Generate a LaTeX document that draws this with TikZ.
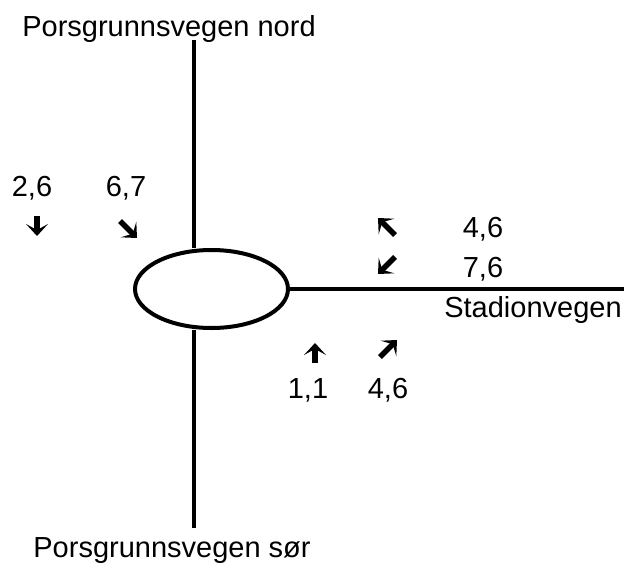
\documentclass[tikz,border=0pt]{standalone}
\usepackage{fontspec}
\setmainfont{Liberation Sans}
\usetikzlibrary{arrows.meta,shapes.geometric}
\newcommand{\lbfont}{\fontsize{29}{34}\selectfont}
\tikzset{
  road/.style={line width=4pt},
  lbl/.style={font=\lbfont,inner sep=0pt,anchor=base},
  ar/.style={line width=5.5pt,-{Stealth[length=12pt,width=22pt,inset=6pt]}},
}
\begin{document}
\begin{tikzpicture}[x=1pt,y=-1pt]
\useasboundingbox (0,0) rectangle (626,565);
% roundabout and roads
\node[draw,road,ellipse,inner sep=0pt,minimum width=153pt,minimum height=78pt] (rb) at (211.5,289) {};
\coordinate (nord) at (194,40);
\coordinate (sor) at (194,528);
\coordinate (stad) at (624,289);
\draw[road] (nord) -- (nord |- rb.north);
\draw[road] (sor) -- (sor |- rb.south);
\draw[road] (rb.east) -- (stad);
% road names
\node[lbl] (pn) at (169,36) {Porsgrunnsvegen nord};
\node[lbl] (ps) at (172,557) {Porsgrunnsvegen sør};
\node[lbl] (sv) at (533,317) {Stadionvegen};
% traffic volumes
\node[lbl] (n26) at (32,196) {2,6};
\node[lbl] (n67) at (126,196) {6,7};
\node[lbl] (s46) at (483,237) {4,6};
\node[lbl] (s76) at (483,277) {7,6};
\node[lbl] (v11) at (308,398) {1,1};
\node[lbl] (v46) at (388,398) {4,6};
% turning arrows
\draw[ar] (37,216) -- (37,236);
\draw[ar] (120,221) -- (137,238);
\draw[ar] (395,235) -- (378,218);
\draw[ar] (395,257) -- (378,274);
\draw[ar] (315,363) -- (315,343);
\draw[ar] (380,357) -- (397,340);
\end{tikzpicture}
\end{document}
